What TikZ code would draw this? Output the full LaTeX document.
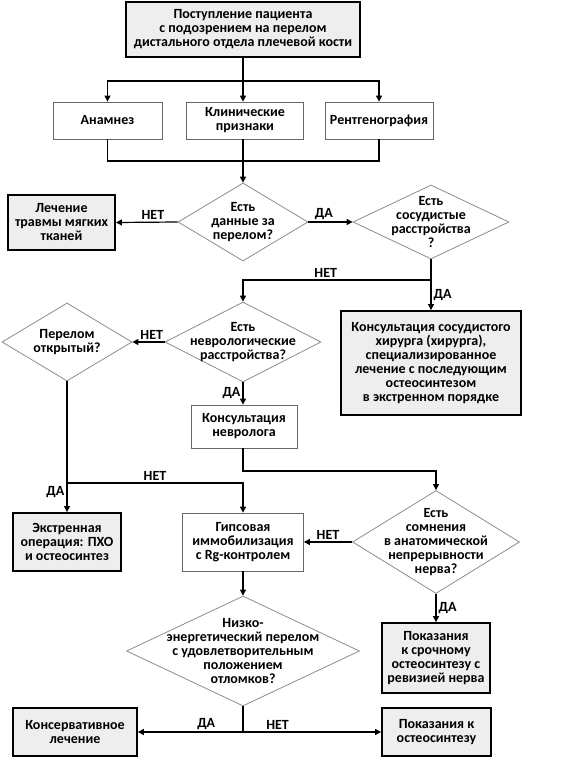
\documentclass[tikz,border=0pt]{standalone}
\usepackage{fontspec}
\setmainfont{Carlito}
\usepackage{tikz}
\usetikzlibrary{arrows.meta,shapes.geometric}
\definecolor{boxgray}{HTML}{EEEEEE}
\definecolor{linegray}{HTML}{666666}
\definecolor{diagray}{HTML}{8C8C8C}

\begin{document}
\begin{tikzpicture}[x=1pt,y=-1pt,>={Triangle[length=6pt,width=6pt]},
  font=\bfseries\fontsize{14}{14}\selectfont,
  endbox/.style={draw=black,line width=1.8pt,fill=boxgray,align=center,inner sep=0pt},
  stepbox/.style={draw=linegray,line width=0.8pt,fill=white,align=center,inner sep=0pt},
  dia/.style={draw=diagray,line width=0.8pt,diamond,inner sep=0pt},
  dtext/.style={align=center,inner sep=0pt},
  arr/.style={->,line width=1.2pt},
  lnk/.style={line width=1.2pt},
  lbl/.style={inner sep=2pt}]
  \useasboundingbox (0,0) rectangle (583,762);
  % top row
  \node[endbox,minimum width=234,minimum height=55] (start) at (243,29.5) {Поступление пациента\\с подозрением на перелом\\дистального отдела плечевой кости};
  \node[stepbox,minimum width=109,minimum height=37] (anam) at (107.5,120.5) {Анамнез};
  \node[stepbox,minimum width=117,minimum height=37] (klin) at (245,120.5) {Клинические\\признаки};
  \node[stepbox,minimum width=108,minimum height=37] (rent) at (379,120.5) {Рентгенография};
  \coordinate (j1) at (243,81);
  \coordinate (j2) at (243,161);
  \draw[lnk] (start.south) -- (j1);
  \draw[arr] (j1) -- (j1 |- klin.north);
  \draw[arr] (j1) -| (anam.north);
  \draw[arr] (j1) -| (rent.north);
  \draw[lnk] (anam.south) |- (j2);
  \draw[lnk] (rent.south) |- (j2);
  \draw[lnk] (j2 |- klin.south) -- (j2);
  % first questions
  \node[dia,minimum width=130,minimum height=78] (d1) at (243,222) {};
  \node[dtext] (d1t) at (d1) {Есть\\данные за\\перелом?};
  \node[dia,minimum width=156,minimum height=74] (d2) at (431,222) {};
  \node[dtext] (d2t) at (d2) {Есть\\сосудистые\\расстройства\\?};
  \node[endbox,minimum width=107,minimum height=55] (lech) at (61.5,222.5) {Лечение\\травмы мягких\\тканей};
  \draw[arr] (j2) -- (d1.north);
  \draw[arr] (d1.west) -- (lech.east) node[lbl,pos=0.4,above] {НЕТ};
  \draw[arr] (d1.east) -- (d2.west) node[lbl,pos=0.35,above] {ДА};
  % vascular / neuro
  \node[endbox,minimum width=180,minimum height=104] (vasc) at (431,363) {Консультация сосудистого\\хирурга (хирурга),\\специализированное\\лечение с последующим\\остеосинтезом\\в экстренном порядке};
  \node[dia,minimum width=156,minimum height=80] (d3) at (243,342) {};
  \node[dtext] (d3t) at (d3) {Есть\\неврологические\\расстройства?};
  \node[dia,minimum width=130,minimum height=78] (d4) at (67,342) {};
  \node[dtext] (d4t) at (d4) {Перелом\\открытый?};
  \node[stepbox,minimum width=106,minimum height=43] (neuro) at (244,426.5) {Консультация\\невролога};
  \coordinate (j3) at (431,280);
  \draw[lnk] (d2.south) -- (j3);
  \draw[arr] (j3) -| (d3.north) node[lbl,pos=0.28,above] {НЕТ};
  \draw[arr] (j3) -- (vasc.north) node[lbl,midway,right] {ДА};
  \draw[arr] (d3.west) -- (d4.east) node[lbl,pos=0.4,above] {НЕТ};
  \draw[arr] (d3.south) -- (d3.south |- neuro.north) node[lbl,midway,left] {ДА};
  % lower part
  \node[endbox,minimum width=108,minimum height=58] (emerg) at (67,542) {Экстренная\\операция: ПХО\\и остеосинтез};
  \node[stepbox,minimum width=121,minimum height=58] (gyps) at (243,542) {Гипсовая\\иммобилизация\\с Rg-контролем};
  \node[dia,minimum width=167,minimum height=103] (d5) at (436,542) {};
  \node[dtext] (d5t) at (d5) {Есть\\сомнения\\в анатомической\\непрерывности\\нерва?};
  \node[endbox,minimum width=108,minimum height=70] (nerve) at (436,658) {Показания\\к срочному\\остеосинтезу с\\ревизией нерва};
  \coordinate (j4) at (436,471);
  \coordinate (j5) at (67,483);
  \draw[arr] (d3.south |- neuro.south) |- (j4) -- (d5.north);
  \draw[lnk] (d4.south) -- (j5);
  \draw[arr] (j5) -- (emerg.north) node[lbl,pos=0.3,left] {ДА};
  \draw[arr] (j5) -| (gyps.north) node[lbl,pos=0.25,above] {НЕТ};
  \draw[arr] (d5.west) -- (gyps.east) node[lbl,midway,above] {НЕТ};
  \draw[arr] (d5.south) -- (nerve.north) node[lbl,midway,right] {ДА};
  % final decision
  \node[dia,minimum width=233,minimum height=110] (d6) at (243,651) {};
  \node[dtext] (d6t) at (d6) {Низко-\\энергетический перелом\\с удовлетворительным\\положением\\отломков?};
  \node[endbox,minimum width=124,minimum height=48] (cons) at (75,732) {Консервативное\\лечение};
  \node[endbox,minimum width=109,minimum height=48] (osteo) at (436.5,732) {Показания к\\остеосинтезу};
  \coordinate (j6) at (243,732);
  \draw[arr] (gyps.south) -- (d6.north);
  \draw[lnk] (d6.south) -- (j6);
  \draw[arr] (j6) -- (cons.east) node[lbl,pos=0.35,above] {ДА};
  \draw[arr] (j6) -- (osteo.west) node[lbl,pos=0.25,above] {НЕТ};
\end{tikzpicture}
\end{document}
